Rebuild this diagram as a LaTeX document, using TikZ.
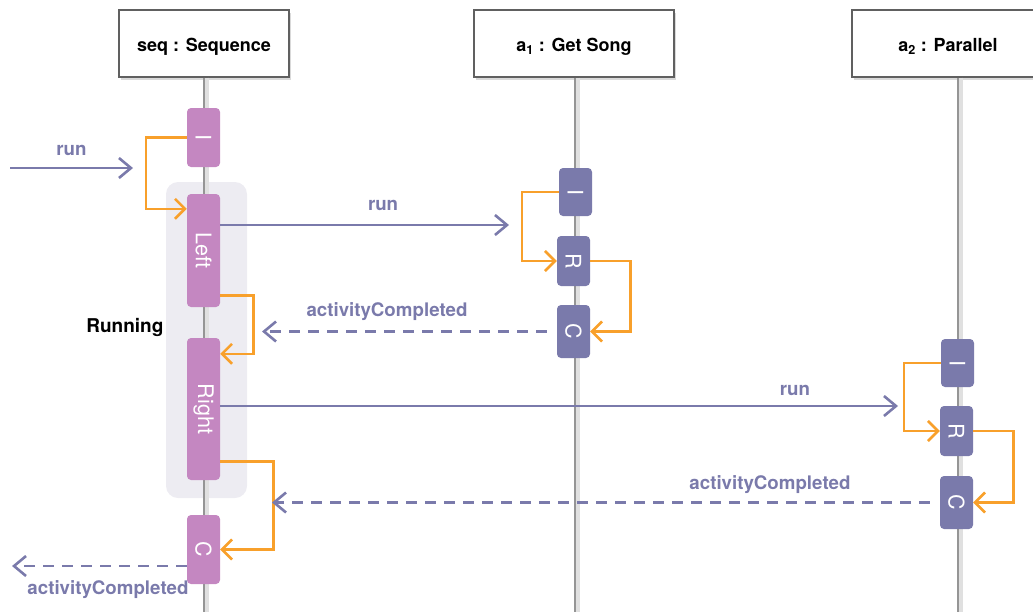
\documentclass[tikz,border=0pt]{standalone}
\usepackage{fontspec}
\setmainfont{TeX Gyre Heros}
\usetikzlibrary{arrows.meta,shadows}

\definecolor{seqpurple}{HTML}{C487C1}
\definecolor{actblue}{HTML}{7A7AAB}
\definecolor{floworange}{HTML}{F8A02B}
\definecolor{runbg}{HTML}{EDECF2}
\definecolor{lifegray}{HTML}{959595}

\begin{document}
\begin{tikzpicture}[x=1pt,y=-1pt,
	header/.style={draw=gray!75!black, line width=1.2pt, fill=white, minimum height=67pt, inner sep=0pt,
		font=\fontsize{18}{21}\selectfont\bfseries,
		drop shadow={shadow xshift=2pt, shadow yshift=-3pt, opacity=0.3}},
	lifeline/.style={draw=lifegray, line width=2.2pt},
	lifeshadow/.style={draw=black!12, line width=5pt},
	act/.style={rounded corners=4pt, minimum width=33pt, inner sep=0pt, text=white,
		font=\fontsize{21.5}{24}\selectfont},
	seqact/.style={act, fill=seqpurple},
	blueact/.style={act, fill=actblue},
	flow/.style={draw=floworange, line width=2.6pt,
		-{Straight Barb[length=10pt, width=20pt, line width=2.6pt]}},
	msg/.style={draw=actblue, line width=2.6pt,
		-{Straight Barb[length=12pt, width=20pt, line width=2.6pt]}},
	reply/.style={msg, dash pattern=on 11pt off 8pt},
	msglabel/.style={text=actblue, font=\fontsize{18.7}{22}\selectfont\bfseries}
	]
	\useasboundingbox (0,0) rectangle (1033,611);
	
	% Kopfzeilen
	\node[header, minimum width=170pt, text depth=0pt] (seq) at (204,43.5) {\raisebox{-2pt}{seq : Sequence}};
	\node[header, minimum width=200pt, text depth=0pt] (a1) at (574,43.5) {\raisebox{-2pt}{a\textsubscript{1} : Get Song}};
	\node[header, minimum width=192pt, text depth=0pt] (a2) at (948,43.5) {\raisebox{-2pt}{a\textsubscript{2} : Parallel}};
	
	% Running
	\node[fill=runbg, rounded corners=12pt, minimum width=81pt, minimum height=316pt] (running) at (206.5,340) {};
	\node[anchor=east, font=\fontsize{19}{22}\selectfont\bfseries] (runlabel) at (167,327) {Running};
	
	% Lebenslinien
	\draw[lifeshadow] ([xshift=2.5pt]seq.south) -- ++(0,534);
	\draw[lifeline] (seq.south) -- ++(0,534);
	\draw[lifeshadow] ([xshift=3.5pt]a1.south) -- ++(0,534);
	\draw[lifeline] ([xshift=1pt]a1.south) -- ++(0,534);
	\draw[lifeshadow] ([xshift=12.5pt]a2.south) -- ++(0,534);
	\draw[lifeline] ([xshift=10pt]a2.south) -- ++(0,534);
	
	% Aktivierungen seq
	\node[seqact, minimum height=59pt] (seqI) at (203.5,137.5) {\rotatebox{-90}{I}};
	\node[seqact, minimum height=113pt] (seqLeft) at (203.5,250.5) {\rotatebox{-90}{Left}};
	\node[seqact, minimum height=142pt] (seqRight) at (203.5,409) {\rotatebox{-90}{Right}};
	\node[seqact, minimum height=69pt] (seqC) at (203.5,549.5) {\rotatebox{-90}{C}};
	
	% Aktivierungen a1
	\node[blueact, minimum height=48pt] (a1I) at (575.5,192) {\rotatebox{-90}{I}};
	\node[blueact, minimum height=50pt] (a1R) at (573.5,261) {\rotatebox{-90}{R}};
	\node[blueact, minimum height=53pt] (a1C) at (573.5,331.5) {\rotatebox{-90}{C}};
	
	% Aktivierungen a2
	\node[blueact, minimum height=48pt] (a2I) at (957.5,363) {\rotatebox{-90}{I}};
	\node[blueact, minimum height=50pt] (a2R) at (956.5,431) {\rotatebox{-90}{R}};
	\node[blueact, minimum height=53pt] (a2C) at (956.5,502.5) {\rotatebox{-90}{C}};
	
	% Zustandswechsel
	\draw[flow] (seqI.west) -- ++(-41,0) |- ([yshift=-15pt]seqLeft.north west);
	\draw[flow] ([yshift=12pt]seqLeft.south east) -- ++(33,0) |- ([yshift=-16pt]seqRight.north east);
	\draw[flow] ([yshift=19pt]seqRight.south east) -- ++(53,0) |- (seqC.east);
	\draw[flow] (a1I.west) -- ++(-37,0) |- (a1R.west);
	\draw[flow] (a1R.east) -- ++(40,0) |- (a1C.east);
	\draw[flow] (a2I.west) -- ++(-37,0) |- (a2R.west);
	\draw[flow] (a2R.east) -- ++(40,0) |- (a2C.east);
	
	% Nachrichten
	\coordinate (runIn) at (10,168);
	\coordinate (runInEnd) at (133,168);
	\coordinate (runA1) at (509,225);
	\coordinate (doneA1) at (262,331.5);
	\coordinate (runA2) at (898,406);
	\coordinate (doneA2) at (272,502.5);
	\coordinate (doneOut) at (12,566);
	
	\draw[msg] (runIn) -- (runInEnd) node[msglabel, midway, yshift=18pt] {run};
	\draw[msg] ([yshift=25.5pt]seqLeft.east) -- (runA1) node[msglabel, pos=0.564, yshift=20pt] {run};
	\draw[reply] ([xshift=-10pt]a1C.west) -- (doneA1) node[msglabel, pos=0.561, yshift=20pt] {activityCompleted};
	\draw[msg] ([yshift=3pt]seqRight.east) -- (runA2) node[msglabel, pos=0.848, yshift=16pt] {run};
	\draw[reply] ([xshift=-10pt]a2C.west) -- (doneA2) node[msglabel, pos=0.243, yshift=18pt] {activityCompleted};
	\draw[reply] ([yshift=-16.5pt]seqC.west) -- (doneOut) node[msglabel, pos=0.451, yshift=-24pt] {activityCompleted};
	
\end{tikzpicture}
\end{document}
